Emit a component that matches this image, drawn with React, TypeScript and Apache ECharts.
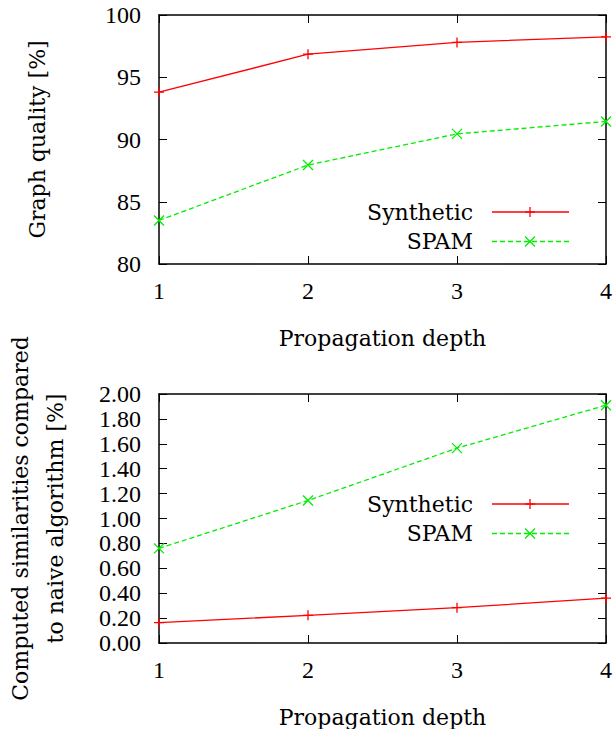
import React, { useEffect, useRef } from "react";
import * as echarts from "echarts";

const depths = [1, 2, 3, 4];
const xTickLabels = ["1", "2", "3", "4"];
const qualitySynthetic = [93.8, 96.85, 97.8, 98.25];
const qualitySpam = [83.5, 87.95, 90.45, 91.45];
const simSynthetic = [0.163, 0.222, 0.284, 0.36];
const simSpam = [0.76, 1.145, 1.565, 1.91];
const seriesNames = ["Synthetic", "SPAM"];

const RED = "#ff0000";
const GREEN = "#00ee00";
const WORD_FONT = "DejaVu Serif";
const NUM_FONT = "Liberation Serif";

const PLUS = "path://M0,5L10,5M5,0L5,10";
const CROSS = "path://M0,0L10,10M0,10L10,0";

export default function App() {
  const ref = useRef<HTMLDivElement>(null);
  useEffect(() => {
    if (!ref.current) return;
    document.body.style.margin = "0";
    document.body.style.overflow = "hidden";
    const chart = echarts.init(ref.current, null, { renderer: "svg" });
    const L = 159;
    const W = 447;
    const H = 249;
    const tops = [15, 394];

    const xAxisBase = (grid: number, pos: "bottom" | "top") => ({
      type: "value",
      gridIndex: grid,
      position: pos,
      min: 1,
      max: 4,
      interval: 1,
      axisLine: { show: true, onZero: false, lineStyle: { color: "#000", width: 1.5 } },
      axisTick: { show: true, inside: true, length: 8, lineStyle: { color: "#000", width: 1 } },
      splitLine: { show: false },
      axisLabel: pos === "bottom"
        ? {
            show: true,
            margin: 15,
            fontFamily: NUM_FONT,
            fontSize: 24,
            color: "#000",
            showMinLabel: true,
            showMaxLabel: true,
            formatter: (v: number) => xTickLabels[depths.indexOf(v)] ?? "",
          }
        : { show: false },
      name: pos === "bottom" ? "Propagation depth" : "",
      nameLocation: "middle",
      nameGap: 63,
      nameTextStyle: { fontFamily: WORD_FONT, fontSize: 22, color: "#000" },
    });

    const yAxisBase = (
      grid: number,
      pos: "left" | "right",
      min: number,
      max: number,
      interval: number,
      fmt: (v: number) => string,
      name: string,
      gap: number
    ) => ({
      type: "value",
      gridIndex: grid,
      position: pos,
      min,
      max,
      interval,
      axisLine: { show: true, onZero: false, lineStyle: { color: "#000", width: 1.5 } },
      axisTick: { show: true, inside: true, length: 8, lineStyle: { color: "#000", width: 1 } },
      splitLine: { show: false },
      axisLabel: pos === "left"
        ? {
            show: true,
            margin: 18,
            fontFamily: NUM_FONT,
            fontSize: 24,
            color: "#000",
            showMinLabel: true,
            showMaxLabel: true,
            hideOverlap: false,
            formatter: fmt,
          }
        : { show: false },
      name: pos === "left" ? name : "",
      nameLocation: "middle",
      nameRotate: 90,
      nameGap: gap,
      nameTextStyle: { fontFamily: WORD_FONT, fontSize: 22, color: "#000", lineHeight: 35 },
    });

    const lineSeries = (name: string, data: number[], grid: number, color: string, dashed: boolean, symbol: string) => ({
      type: "line",
      name,
      xAxisIndex: grid * 2,
      yAxisIndex: grid * 2,
      data: depths.map((d, i) => [d, data[i]]),
      symbol,
      symbolSize: 10,
      showSymbol: true,
      lineStyle: { color, width: 1.3, type: dashed ? [5, 3] : "solid" },
      itemStyle: { color, borderColor: color, borderWidth: 1.3 },
      clip: false,
    });

    const legendItems = (top: number, gapY: number) => {
      const items: any[] = [];
      const entries = [
        { name: seriesNames[0], color: RED, dashed: false, mark: "plus" },
        { name: seriesNames[1], color: GREEN, dashed: true, mark: "cross" },
      ];
      entries.forEach((e, i) => {
        const y = top + i * gapY;
        items.push({
          type: "text",
          x: 473,
          y,
          style: {
            text: e.name,
            fontFamily: WORD_FONT,
            fontSize: 22,
            fill: "#000",
            align: "right",
            verticalAlign: "middle",
          },
        });
        items.push({
          type: "line",
          shape: { x1: 492, y1: y, x2: 569, y2: y },
          style: { stroke: e.color, lineWidth: 1.3, lineDash: e.dashed ? [5, 3] : null },
        });
        const cx = 530;
        const r = 5;
        if (e.mark === "plus") {
          items.push({ type: "line", shape: { x1: cx - r, y1: y, x2: cx + r, y2: y }, style: { stroke: e.color, lineWidth: 1.3 } });
          items.push({ type: "line", shape: { x1: cx, y1: y - r, x2: cx, y2: y + r }, style: { stroke: e.color, lineWidth: 1.3 } });
        } else {
          items.push({ type: "line", shape: { x1: cx - r, y1: y - r, x2: cx + r, y2: y + r }, style: { stroke: e.color, lineWidth: 1.3 } });
          items.push({ type: "line", shape: { x1: cx - r, y1: y + r, x2: cx + r, y2: y - r }, style: { stroke: e.color, lineWidth: 1.3 } });
        }
      });
      return items;
    };

    chart.setOption({
      animation: false,
      backgroundColor: "#fff",
      grid: [
        { left: L, top: tops[0], width: W, height: H, outerBoundsMode: "none", containLabel: false },
        { left: L, top: tops[1], width: W, height: H, outerBoundsMode: "none", containLabel: false },
      ],
      xAxis: [
        xAxisBase(0, "bottom"),
        xAxisBase(0, "top"),
        xAxisBase(1, "bottom"),
        xAxisBase(1, "top"),
      ],
      yAxis: [
        yAxisBase(0, "left", 80, 100, 5, (v) => String(v), "Graph quality [%]", 104),
        yAxisBase(0, "right", 80, 100, 5, (v) => String(v), "", 0),
        yAxisBase(1, "left", 0, 2, 0.2, (v) => v.toFixed(2), "Computed similarities compared\nto naive algorithm [%]", 86),
        yAxisBase(1, "right", 0, 2, 0.2, (v) => v.toFixed(2), "", 0),
      ],
      series: [
        lineSeries(seriesNames[0], qualitySynthetic, 0, RED, false, PLUS),
        lineSeries(seriesNames[1], qualitySpam, 0, GREEN, true, CROSS),
        lineSeries(seriesNames[0], simSynthetic, 1, RED, false, PLUS),
        lineSeries(seriesNames[1], simSpam, 1, GREEN, true, CROSS),
      ],
      graphic: [...legendItems(212, 29.5), ...legendItems(504, 29.5)],
    });
    return () => chart.dispose();
  }, []);
  return <div ref={ref} style={{ width: 616, height: 729 }} />;
}
